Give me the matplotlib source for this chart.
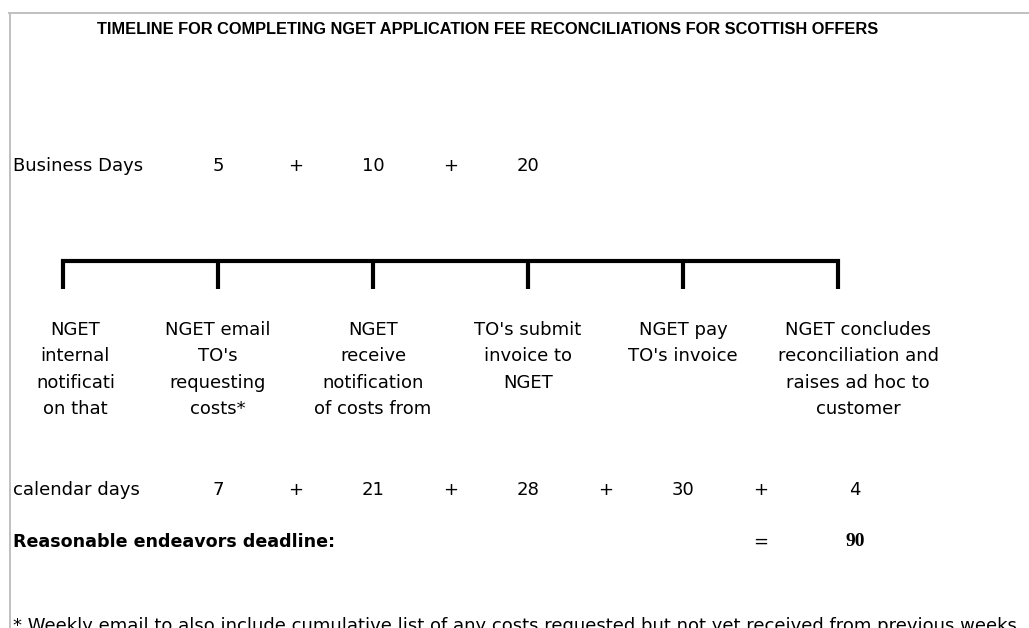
import matplotlib
matplotlib.use('Agg')
import matplotlib.pyplot as plt
from matplotlib.lines import Line2D

W, H = 1029, 628
TEXT = '#000000'
BORDER = '#c0c0c0'
FONT = 'DejaVu Sans'

title = "TIMELINE FOR COMPLETING NGET APPLICATION FEE RECONCILIATIONS FOR SCOTTISH OFFERS"

# timeline steps (bracket ticks 0..5) and their descriptions
steps = [
    "NGET\ninternal\nnotificati\non that",
    "NGET email\nTO's\nrequesting\ncosts*",
    "NGET\nreceive\nnotification\nof costs from",
    "TO's submit\ninvoice to\nNGET",
    "NGET pay\nTO's invoice",
    "NGET concludes\nreconciliation and\nraises ad hoc to\ncustomer",
]
step_label_x = [0.08, 1, 2, 3, 4, 5.13]

business_days = [5, 10, 20]
business_x = [1, 2, 3]

calendar_days = [7, 21, 28, 30, 4]
calendar_x = [1, 2, 3, 4, 5.11]

total_days = 90
footnote = ("* Weekly email to also include cumulative list of any costs requested "
            "but not yet received from previous weeks")

# pixel layout: tick i sits at 63 + 155*i px
X0, DX = 63, 155
fig = plt.figure(figsize=(W / 100, H / 100), dpi=100)
fig.patch.set_facecolor('white')
ax = fig.add_axes([0, 0, 1, 1])
ax.set_xlim(-X0 / DX, (W - X0) / DX)
ax.set_ylim(H, 0)
ax.axis('off')


def px(x):
    return (x - X0) / DX


# sheet border (top + left grey line)
fig.add_artist(Line2D([9 / W, 1], [1 - 12.5 / H, 1 - 12.5 / H],
                      transform=fig.transFigure, color=BORDER, lw=1.4))
fig.add_artist(Line2D([9.5 / W, 9.5 / W], [0, 1 - 12.5 / H],
                      transform=fig.transFigure, color=BORDER, lw=1.4))

fs = 13
ax.text(px(488), 29, title, ha='center', va='center', fontsize=11.8,
        fontweight='bold', family='Liberation Sans', color=TEXT)

# business days row
y_bd = 166
ax.text(px(13), y_bd, "Business Days", ha='left', va='center', fontsize=fs,
        family=FONT, color=TEXT)
for i, (xv, v) in enumerate(zip(business_x, business_days)):
    ax.text(xv, y_bd, str(v), ha='center', va='center', fontsize=fs,
            family=FONT, color=TEXT)
    if i < len(business_days) - 1:
        ax.text(xv + 0.5, y_bd, "+", ha='center', va='center', fontsize=fs,
                family=FONT, color=TEXT)

# bracket
n = len(steps)
ax.plot([0, 0, n - 1, n - 1], [289, 261, 261, 289], color='black', lw=3.0,
        solid_joinstyle='miter', solid_capstyle='butt')
ax.vlines(range(1, n - 1), 261, 289, color='black', lw=3.0)

# step descriptions
for xv, s in zip(step_label_x, steps):
    ax.text(xv, 321, s, ha='center', va='top', fontsize=fs, family=FONT,
            color=TEXT, linespacing=1.6)

# calendar days row
y_cd = 490
ax.text(px(13), y_cd, "calendar days", ha='left', va='center', fontsize=fs,
        family=FONT, color=TEXT)
for i, (xv, v) in enumerate(zip(calendar_x, calendar_days)):
    ax.text(xv, y_cd, str(v), ha='center', va='center', fontsize=fs,
            family=FONT, color=TEXT)
    if i < len(calendar_days) - 1:
        ax.text(i + 1.5, y_cd, "+", ha='center', va='center', fontsize=fs,
                family=FONT, color=TEXT)

# total
y_tot = 542
ax.text(px(13), y_tot, "Reasonable endeavors deadline:", ha='left', va='center',
        fontsize=12.6, fontweight='bold', family=FONT, color=TEXT)
ax.text(4.5, y_tot, "=", ha='center', va='center', fontsize=fs, family=FONT,
        color=TEXT)
ax.text(calendar_x[-1], y_tot, str(total_days), ha='center', va='center',
        fontsize=14, fontweight='bold', family='Liberation Serif', color=TEXT)

# footnote, cut by the bottom edge as in the source sheet
ax.text(px(13), 631, footnote, ha='left', va='baseline', fontsize=fs,
        family=FONT, color=TEXT)

fig.savefig('out.png', dpi=100, facecolor='white')
